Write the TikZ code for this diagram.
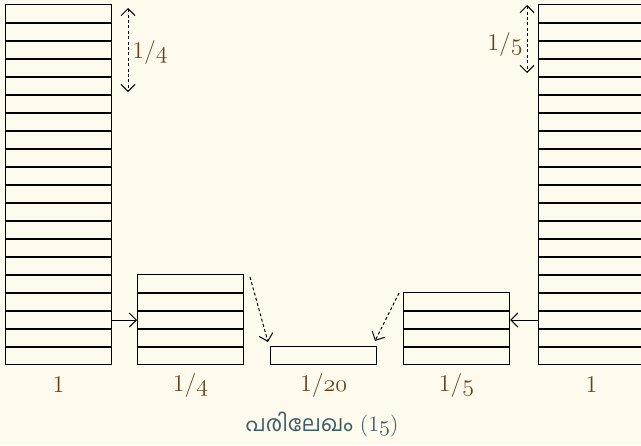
\documentclass[tikz,border=0pt]{standalone}
\usepackage{fontspec}
\newfontfamily\malfont[Script=Malayalam]{Hind Kochi}
\usetikzlibrary{arrows.meta,positioning}

\definecolor{sfondo}{RGB}{254,250,238}
\definecolor{marrone}{RGB}{110,66,22}
\definecolor{didascalia}{RGB}{62,96,100}

\newcommand{\osn}[1]{\ensuremath{\mathnormal{#1}}}
\newcommand{\fraz}[2]{#1/\osn{#2}}

\tikzset{
    pila/.style={draw,line width=0.55pt,minimum width=53pt,inner sep=0pt,anchor=south west},
    striscia/.style={line width=0.55pt},
    etichetta/.style={text=marrone,font=\fontsize{12}{14}\selectfont,inner sep=1pt},
    freccia/.style={line width=0.5pt,-{Straight Barb[length=3.5pt,width=7pt]}},
    tratteggio/.style={freccia,dash pattern=on 1.5pt off 1.2pt},
}

\begin{document}
\begin{tikzpicture}[x=0.5pt,y=-0.5pt]
    \fill[sfondo] (0,0) rectangle (641,445);
    \useasboundingbox (0,0) rectangle (641,445);

    %colonne
    \node[pila,minimum height=180pt] (uno) at (5,365) {};
    \node[pila,minimum height=45pt] (quarto) at (137,365) {};
    \node[pila,minimum height=9pt] (ventesimo) at (270,365) {};
    \node[pila,minimum height=36pt] (quinto) at (403,365) {};
    \node[pila,minimum height=180pt] (unodx) at (538,365) {};

    %strisce
    \foreach \k in {1,...,19}{
        \draw[striscia] ([yshift=\k*9pt]uno.south west)--([yshift=\k*9pt]uno.south east);
        \draw[striscia] ([yshift=\k*9pt]unodx.south west)--([yshift=\k*9pt]unodx.south east);
    }
    \foreach \k in {1,...,4}
        \draw[striscia] ([yshift=\k*9pt]quarto.south west)--([yshift=\k*9pt]quarto.south east);
    \foreach \k in {1,...,3}
        \draw[striscia] ([yshift=\k*9pt]quinto.south west)--([yshift=\k*9pt]quinto.south east);

    %frecce piene
    \draw[freccia] ([yshift=22.5pt]uno.south east)--([yshift=22.5pt]quarto.south west);
    \draw[freccia] ([yshift=22.5pt]unodx.south west)--([yshift=22.5pt]quinto.south east);

    %frecce tratteggiate
    \coordinate (p1) at (250,277);
    \coordinate (p2) at (268,342);
    \coordinate (p3) at (399,293);
    \coordinate (p4) at (375,341);
    \draw[tratteggio] (p1)--(p2);
    \draw[tratteggio] (p3)--(p4);

    %misure
    \coordinate (a1) at (128,8);
    \coordinate (a2) at (128,92);
    \coordinate (b1) at (527,5);
    \coordinate (b2) at (527,73);
    \draw[tratteggio,{Straight Barb[length=3.5pt,width=7pt]}-{Straight Barb[length=3.5pt,width=7pt]}] (a1)--(a2);
    \draw[tratteggio,{Straight Barb[length=3.5pt,width=7pt]}-{Straight Barb[length=3.5pt,width=7pt]}] (b1)--(b2);
    \node[etichetta] (mq) at (150,52) {\fraz{1}{4}};
    \node[etichetta] (mc) at (505,44) {\fraz{1}{5}};

    %etichette
    \node[etichetta] (luno) at ([yshift=-10pt]uno.south) {1};
    \node[etichetta] (lquarto) at ([yshift=-10pt]quarto.south) {\fraz{1}{4}};
    \node[etichetta] (lventesimo) at ([yshift=-10pt]ventesimo.south) {\fraz{1}{20}};
    \node[etichetta] (lquinto) at ([yshift=-10pt]quinto.south) {\fraz{1}{5}};
    \node[etichetta] (lunodx) at ([yshift=-10pt]unodx.south) {1};

    %didascalia
    \node[text=didascalia,font=\fontsize{11}{13}\selectfont,inner sep=0pt] (cap) at (322,425) {{\malfont പരിലേഖം} (1\osn{5})};

\end{tikzpicture}
\end{document}
